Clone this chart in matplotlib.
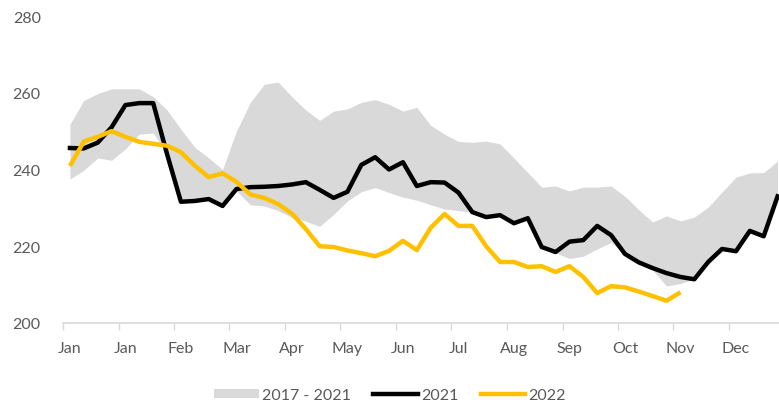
import numpy as np
import matplotlib
matplotlib.use("Agg")
import matplotlib.pyplot as plt
from matplotlib.patches import Patch
from matplotlib.lines import Line2D

# one label every 4 weeks (week 1, 5, 9, ...)
month_labels = ["Jan", "Jan", "Feb", "Mar", "Apr", "May", "Jun",
                "Jul", "Aug", "Sep", "Oct", "Nov", "Dec"]

# 2017 - 2021 range (weekly)
band_high = [251.8, 258, 259.8, 261, 261, 261, 259, 255.5, 250.5, 245.8,
             243, 240, 250, 257.5, 262.2, 262.8, 259, 255.5, 252.8, 255.2,
             255.8, 257.5, 258.2, 257, 255.2, 256.2, 251.5, 249.2, 247.3, 247.1,
             247.4, 246.7, 243, 239.2, 235.4, 235.7, 234.4, 235.4, 235.4, 235.7,
             233, 229.5, 226.3, 227.9, 226.6, 227.6, 230.2, 234.1, 238, 239.1,
             239.2, 242.2]
band_low = [237.5, 239.8, 243, 242.4, 245.4, 249.2, 249.5, 244, 231.6, 231.8,
            232.3, 230.5, 234.5, 230.8, 230.5, 229.3, 227.5, 226.5, 225.2, 228.3,
            231.8, 234.2, 235.3, 234, 232.8, 232, 230.8, 229.7, 229.3, 228.9,
            227.6, 228.1, 226, 227.3, 219.8, 218.3, 216.8, 217.4, 219.3, 221,
            218, 215.8, 213.8, 209.6, 210.3, 211.4, 215.9, 219.3, 218.7, 224,
            222.6, 233]

values_2021 = [245.6, 245.5, 247, 251, 256.8, 257.3, 257.3, 244, 231.6, 231.8,
               232.3, 230.5, 234.9, 235.4, 235.5, 235.7, 236.1, 236.7, 234.7, 232.6,
               234.2, 241.2, 243.2, 240, 241.9, 235.7, 236.7, 236.6, 234, 228.9,
               227.6, 228.1, 226, 227.3, 219.8, 218.5, 221.2, 221.6, 225.3, 222.9,
               218, 215.8, 214.3, 213, 212, 211.4, 215.9, 219.3, 218.7, 224,
               222.6, 233]

values_2022 = [240.9, 247.3, 248.5, 250, 248.5, 247.2, 246.7, 246.2, 244.5, 241,
               238, 239, 236.8, 233.5, 232.6, 231, 228.5, 224.5, 220, 219.8,
               218.9, 218.2, 217.4, 218.8, 221.4, 219, 224.8, 228.4, 225.3, 225.3,
               220, 215.9, 215.9, 214.6, 214.8, 213.3, 214.8, 212, 207.8, 209.6,
               209.3, 208.2, 207, 205.8, 208]


def main():
    plt.rcParams["font.family"] = ["Lato", "DejaVu Sans"]
    text_col = "#595959"
    grey = "#d9d9d9"
    gold = "#ffc000"

    fig = plt.figure(figsize=(7.79, 4.06), dpi=100)
    # right edge runs a little past the picture, like the original crop
    ax = fig.add_axes([63 / 779, 82 / 406, 721.5 / 779, 307 / 406])

    weeks = np.arange(len(band_high))
    ax.fill_between(weeks, band_low, band_high, color=grey, linewidth=0)
    ax.plot(weeks, values_2021, color="black", lw=3.2, solid_joinstyle="round")
    ax.plot(np.arange(len(values_2022)), values_2022, color=gold, lw=3.2,
            solid_joinstyle="round", solid_capstyle="butt")

    ax.set_xlim(-0.5, len(weeks) - 0.5)
    ax.set_ylim(200, 280)
    ax.set_yticks(np.arange(200, 281, 20))
    ax.set_xticks(weeks[::4])
    ax.set_xticklabels(month_labels)
    ax.set_xticks(np.arange(-0.5, len(weeks), 4), minor=True)

    ax.tick_params(axis="x", which="major", length=0, pad=13,
                   labelsize=11.5, labelcolor=text_col)
    ax.tick_params(axis="x", which="minor", length=5, width=1, color=grey)
    ax.tick_params(axis="y", length=0, pad=16, labelsize=11.5, labelcolor=text_col)

    for s in ["left", "top", "right"]:
        ax.spines[s].set_visible(False)
    ax.spines["bottom"].set_color(grey)
    ax.spines["bottom"].set_linewidth(1.2)

    handles = [Patch(facecolor=grey, edgecolor="none", label="2017 - 2021"),
               Line2D([], [], color="black", lw=3.2, label="2021"),
               Line2D([], [], color=gold, lw=3.2, label="2022")]
    leg = fig.legend(handles=handles, loc="center", ncol=3, frameon=False,
                     bbox_to_anchor=(390 / 779, 9.5 / 406), fontsize=11.5,
                     handlelength=2.8, handleheight=0.5, handletextpad=0.2,
                     columnspacing=1.4)
    for t in leg.get_texts():
        t.set_color(text_col)

    fig.savefig("out.png", dpi=100)


if __name__ == "__main__":
    main()
